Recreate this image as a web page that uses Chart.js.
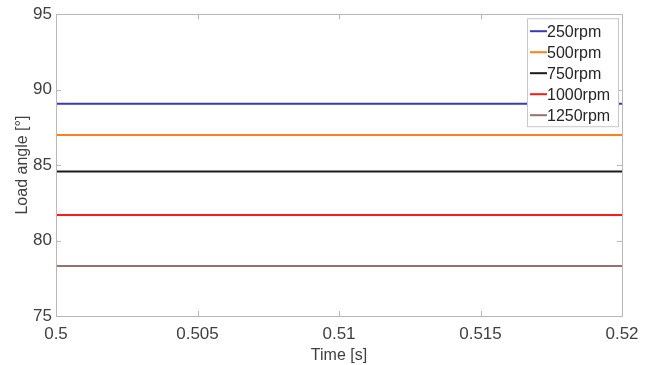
<!DOCTYPE html>
<html>
<head>
<meta charset="utf-8">
<script src="https://cdn.jsdelivr.net/npm/chart.js@4.4.0/dist/chart.umd.min.js"></script>
<style>
  html, body { margin: 0; padding: 0; background: #fff; }
  #wrap { width: 653px; height: 365px; }
</style>
</head>
<body>
<div id="wrap"><canvas id="myChart" width="653" height="365"></canvas></div>
<script>
const times = [0.5, 0.52];
const labels = ['250rpm', '500rpm', '750rpm', '1000rpm', '1250rpm'];
const rpm250 = [89.07, 89.07];
const rpm500 = [87.0, 87.0];
const rpm750 = [84.57, 84.57];
const rpm1000 = [81.7, 81.7];
const rpm1250 = [78.32, 78.32];
const colors = ['#3a3ab4', '#ff8019', '#1a1a1a', '#ff1a1a', '#9c6f6a'];
const xTicks = [0.5, 0.505, 0.51, 0.515, 0.52];
const yTicks = [75, 80, 85, 90, 95];

const series = [rpm250, rpm500, rpm750, rpm1000, rpm1250];
const textColor = '#404040';
const frameColor = '#b8b8b8';
const fontFam = '"Liberation Sans", Arial, sans-serif';

const data = {
  datasets: series.map(function(s, i) {
    return {
      label: labels[i],
      data: s.map(function(v, j) { return { x: times[j], y: v }; }),
      borderColor: colors[i],
      backgroundColor: colors[i],
      borderWidth: 2,
      pointRadius: 0,
      tension: 0
    };
  })
};

// frame, inward ticks and a legend inside the axes box
const boxPlugin = {
  id: 'box',
  afterDatasetsDraw(chart) {
    const ctx = chart.ctx;
    const a = chart.chartArea;
    const xs = chart.scales.x;
    const ys = chart.scales.y;
    ctx.save();
    ctx.strokeStyle = frameColor;
    ctx.lineWidth = 1;
    ctx.beginPath();
    xTicks.forEach(function(t) {
      const px = Math.round(xs.getPixelForValue(t)) + 0.5;
      ctx.moveTo(px, a.bottom); ctx.lineTo(px, a.bottom - 5);
      ctx.moveTo(px, a.top); ctx.lineTo(px, a.top + 5);
    });
    yTicks.forEach(function(t) {
      const py = Math.round(ys.getPixelForValue(t)) + 0.5;
      ctx.moveTo(a.left, py); ctx.lineTo(a.left + 5, py);
      ctx.moveTo(a.right, py); ctx.lineTo(a.right - 5, py);
    });
    ctx.stroke();
    ctx.strokeRect(Math.round(a.left) + 0.5, Math.round(a.top) + 0.5,
      Math.round(a.right - a.left), Math.round(a.bottom - a.top));

    // legend
    const lx = a.right - 95, ly = a.top + 4, lw = 91, lh = 108;
    ctx.fillStyle = '#fff';
    ctx.fillRect(lx, ly, lw, lh);
    ctx.strokeStyle = '#c8c8c8';
    ctx.strokeRect(lx + 0.5, ly + 0.5, lw, lh);
    ctx.font = '16px ' + fontFam;
    ctx.textBaseline = 'middle';
    chart.data.datasets.forEach(function(ds, i) {
      const cy = ly + 13 + i * 21;
      ctx.strokeStyle = ds.borderColor;
      ctx.lineWidth = 2;
      ctx.beginPath();
      ctx.moveTo(lx + 3, cy); ctx.lineTo(lx + 20, cy);
      ctx.stroke();
      ctx.fillStyle = '#262626';
      ctx.fillText(ds.label, lx + 20, cy + 1);
    });
    ctx.restore();
  }
};

const config = {
  type: 'line',
  data: data,
  options: {
    responsive: false,
    animation: false,
    layout: { padding: { top: 13, right: 31, left: 0, bottom: 0 } },
    plugins: { legend: { display: false }, tooltip: { enabled: false } },
    scales: {
      x: {
        type: 'linear',
        min: 0.5,
        max: 0.52,
        afterBuildTicks: function(s) { s.ticks = xTicks.map(function(v) { return { value: v }; }); },
        afterFit: function(s) { s.height = 49; },
        grid: { display: false },
        border: { display: false },
        ticks: {
          color: textColor,
          font: { family: fontFam, size: 17 },
          padding: 0,
          maxRotation: 0,
          callback: function(v) { return String(Number(v.toFixed(3))); }
        },
        title: {
          display: true,
          text: 'Time [s]',
          color: textColor,
          font: { family: fontFam, size: 16 },
          padding: { top: 0, bottom: 0 }
        }
      },
      y: {
        min: 75,
        max: 95,
        afterBuildTicks: function(s) { s.ticks = yTicks.map(function(v) { return { value: v }; }); },
        afterFit: function(s) { s.width = 56; },
        grid: { display: false, drawTicks: false },
        border: { display: false },
        ticks: {
          color: textColor,
          font: { family: fontFam, size: 17 },
          padding: 4
        },
        title: {
          display: true,
          text: 'Load angle [°]',
          color: textColor,
          font: { family: fontFam, size: 16 },
          padding: { top: 13, bottom: 0 }
        }
      }
    }
  },
  plugins: [boxPlugin]
};

var myChart = new Chart(document.getElementById('myChart'), config);
</script>
</body>
</html>
